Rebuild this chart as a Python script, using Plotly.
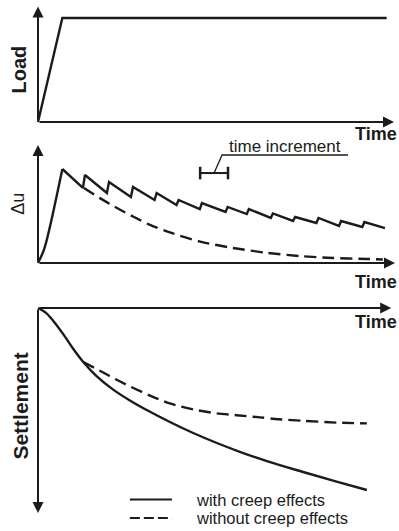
import plotly.graph_objects as go

# ---- data -------------------------------------------------------------
# Load history: linear ramp, then constant
load_t = [0, 7.0, 100.2]
load_v = [0, 1.0, 1.0]

# Excess pore pressure: rise to peak
rise_t = [0, 1.7, 3.2, 7.0]
rise_u = [0, 0.14, 0.35, 1.0]

# Sawtooth (with creep): time of each jump, value just before and just after
jump_t = [13.2, 20.1, 27.0, 33.8, 40.1, 46.8, 54.2, 60.3, 67.2, 73.6, 80.3, 86.8, 93.5]
trough_u = [0.798, 0.745, 0.702, 0.670, 0.617, 0.574, 0.543, 0.521, 0.479, 0.447, 0.426, 0.394, 0.383]
top_u = [0.936, 0.862, 0.809, 0.745, 0.670, 0.638, 0.596, 0.574, 0.527, 0.489, 0.479, 0.447, 0.436]
end_t, end_u = 99.7, 0.372

# Dissipation without creep
nocreep_t = [13.2, 17.8, 22.7, 27.3, 32.2, 37.9, 46.6, 56.0, 65.8, 75.3, 84.8, 94.5, 99.1]
nocreep_u = [0.798, 0.690, 0.585, 0.495, 0.405, 0.325, 0.228, 0.160, 0.108, 0.074, 0.053, 0.043, 0.038]

# Time-increment marker
inc_t = [46.6, 54.6]
inc_u = 0.957

# Settlement curves
sett_creep_t = [0, 2.2, 4.4, 7.3, 10.1, 13.0, 16.9, 21.6, 26.4, 32.2, 37.9, 44.6, 51.4, 58.0, 66.0, 76.2, 85.8, 94.5]
sett_creep_s = [0, 2.3, 6.5, 13.2, 20.4, 27.0, 34.2, 40.8, 46.2, 51.9, 57.0, 62.5, 67.5, 71.9, 76.7, 82.0, 86.8, 91.0]
sett_plain_t = [13.0, 17.8, 22.6, 27.4, 32.2, 37.9, 44.6, 51.4, 57.1, 63.8, 69.1, 76.2, 85.8, 94.5]
sett_plain_s = [27.0, 31.4, 35.9, 40.0, 43.8, 47.7, 50.7, 52.7, 53.6, 54.7, 55.6, 56.4, 57.3, 57.7]

legend_labels = ["with creep effects", "without creep effects"]

# ---- style ------------------------------------------------------------
INK = "#1b1b1b"
FONT = "Liberation Sans"
DASH = "12px,6px"
W = 2.4

# ---- build the sawtooth path from the jump table ------------------------
saw_t = [rise_t[-1]]
saw_u = [rise_u[-1]]
for t, lo, hi in zip(jump_t, trough_u, top_u):
    saw_t += [t - 0.3, t + 0.3]
    saw_u += [lo, hi]
saw_t.append(end_t)
saw_u.append(end_u)

fig = go.Figure()

# panel 1: load
fig.add_trace(go.Scatter(x=load_t, y=load_v, mode="lines",
                         line=dict(color=INK, width=W), xaxis="x", yaxis="y"))

# panel 2: pore pressure
fig.add_trace(go.Scatter(x=rise_t, y=rise_u, mode="lines", line=dict(color=INK, width=W, shape="spline"),
                         xaxis="x2", yaxis="y2"))
fig.add_trace(go.Scatter(x=saw_t, y=saw_u, mode="lines", line=dict(color=INK, width=W),
                         xaxis="x2", yaxis="y2"))
fig.add_trace(go.Scatter(x=nocreep_t, y=nocreep_u, mode="lines",
                         line=dict(color=INK, width=W, dash=DASH, shape="spline", smoothing=0.8),
                         xaxis="x2", yaxis="y2"))
# time increment marker and leader
fig.add_trace(go.Scatter(x=inc_t, y=[inc_u, inc_u], mode="lines+markers",
                         line=dict(color=INK, width=2),
                         marker=dict(symbol="line-ns", size=9, line=dict(color=INK, width=2.5)),
                         xaxis="x2", yaxis="y2"))
mid_t = sum(inc_t) / 2
fig.add_trace(go.Scatter(x=[mid_t, 52.9, 89.1], y=[inc_u, 1.149, 1.149], mode="lines",
                         line=dict(color=INK, width=1.3), xaxis="x2", yaxis="y2"))

# panel 3: settlement
fig.add_trace(go.Scatter(x=sett_creep_t, y=sett_creep_s, mode="lines",
                         line=dict(color=INK, width=W, shape="spline", smoothing=1.0),
                         xaxis="x3", yaxis="y3"))
fig.add_trace(go.Scatter(x=sett_plain_t, y=sett_plain_s, mode="lines",
                         line=dict(color=INK, width=W, dash=DASH, shape="spline", smoothing=0.8),
                         xaxis="x3", yaxis="y3"))
# legend samples
fig.add_trace(go.Scatter(x=[26.4, 38.5], y=[95.75, 95.75], mode="lines",
                         line=dict(color=INK, width=2.2), xaxis="x3", yaxis="y3"))
fig.add_trace(go.Scatter(x=[26.4, 38.5], y=[105, 105], mode="lines",
                         line=dict(color=INK, width=2.2, dash="10px,4px"), xaxis="x3", yaxis="y3"))

# ---- axes (hidden, arrows drawn as annotations) --------------------------
XR = [-10.92, 103.74]
hidden = dict(visible=False, showgrid=False, zeroline=False, fixedrange=True)
fig.update_layout(
    width=399, height=531, margin=dict(l=0, r=0, t=0, b=0),
    paper_bgcolor="white", plot_bgcolor="white", showlegend=False,
    xaxis=dict(domain=[0, 1], range=XR, anchor="y", **hidden),
    yaxis=dict(domain=[0.73635, 1], range=[-0.1731, 1.1731], anchor="x", **hidden),
    xaxis2=dict(domain=[0, 1], range=XR, anchor="y2", **hidden),
    yaxis2=dict(domain=[0.44444, 0.73635], range=[-0.3404, 1.3085], anchor="x2", **hidden),
    xaxis3=dict(domain=[0, 1], range=XR, anchor="y3", **hidden),
    yaxis3=dict(domain=[0, 0.44444], range=[111.5, -6.5], anchor="x3", **hidden),
)


def arrow(ax_id, x0, y0, x1, y1):
    xr, yr = "x" + ax_id, "y" + ax_id
    return dict(x=x1, y=y1, ax=x0, ay=y0, xref=xr, yref=yr, axref=xr, ayref=yr,
                text="", showarrow=True, arrowhead=2, arrowsize=1.1, arrowwidth=2,
                arrowcolor=INK, standoff=0, startstandoff=0)


def label(ax_id, x, y, text, size, bold=False, angle=0, xanchor="center"):
    return dict(x=x, y=y, xref="x" + ax_id, yref="y" + ax_id, showarrow=False,
                text=f"<b>{text}</b>" if bold else text, textangle=angle,
                xanchor=xanchor, yanchor="middle", borderpad=0,
                font=dict(family=FONT, size=size, color=INK))


annotations = [
    # panel 1
    arrow("", 0, 0, 0, 1.11),
    arrow("", 0, 0, 102.3, 0),
    label("", -5.6, 0.5, "Load", 20, bold=True, angle=-90),
    label("", 103.4, -0.115, "Time", 18, bold=True, xanchor="right"),
    # panel 2
    arrow("2", 0, 0, 0, 1.255),
    arrow("2", 0, 0, 102.6, 0),
    label("2", -5.7, 0.633, "Δu", 18, angle=-90),
    label("2", 103.4, -0.202, "Time", 18, bold=True, xanchor="right"),
    label("2", 71.1, 1.235, "time increment", 17),
    # panel 3
    arrow("3", 0, 0, 101.5, 0),
    arrow("3", 0, 0, 0, 102.5),
    label("3", -5.3, 49, "Settlement", 21, bold=True, angle=-90),
    label("3", 103.4, 7, "Time", 18, bold=True, xanchor="right"),
    label("3", 45.1, 95.75, legend_labels[0], 16.5, xanchor="left"),
    label("3", 45.1, 105, legend_labels[1], 16.5, xanchor="left"),
]
fig.update_layout(annotations=annotations)

fig.write_html("out.html")
